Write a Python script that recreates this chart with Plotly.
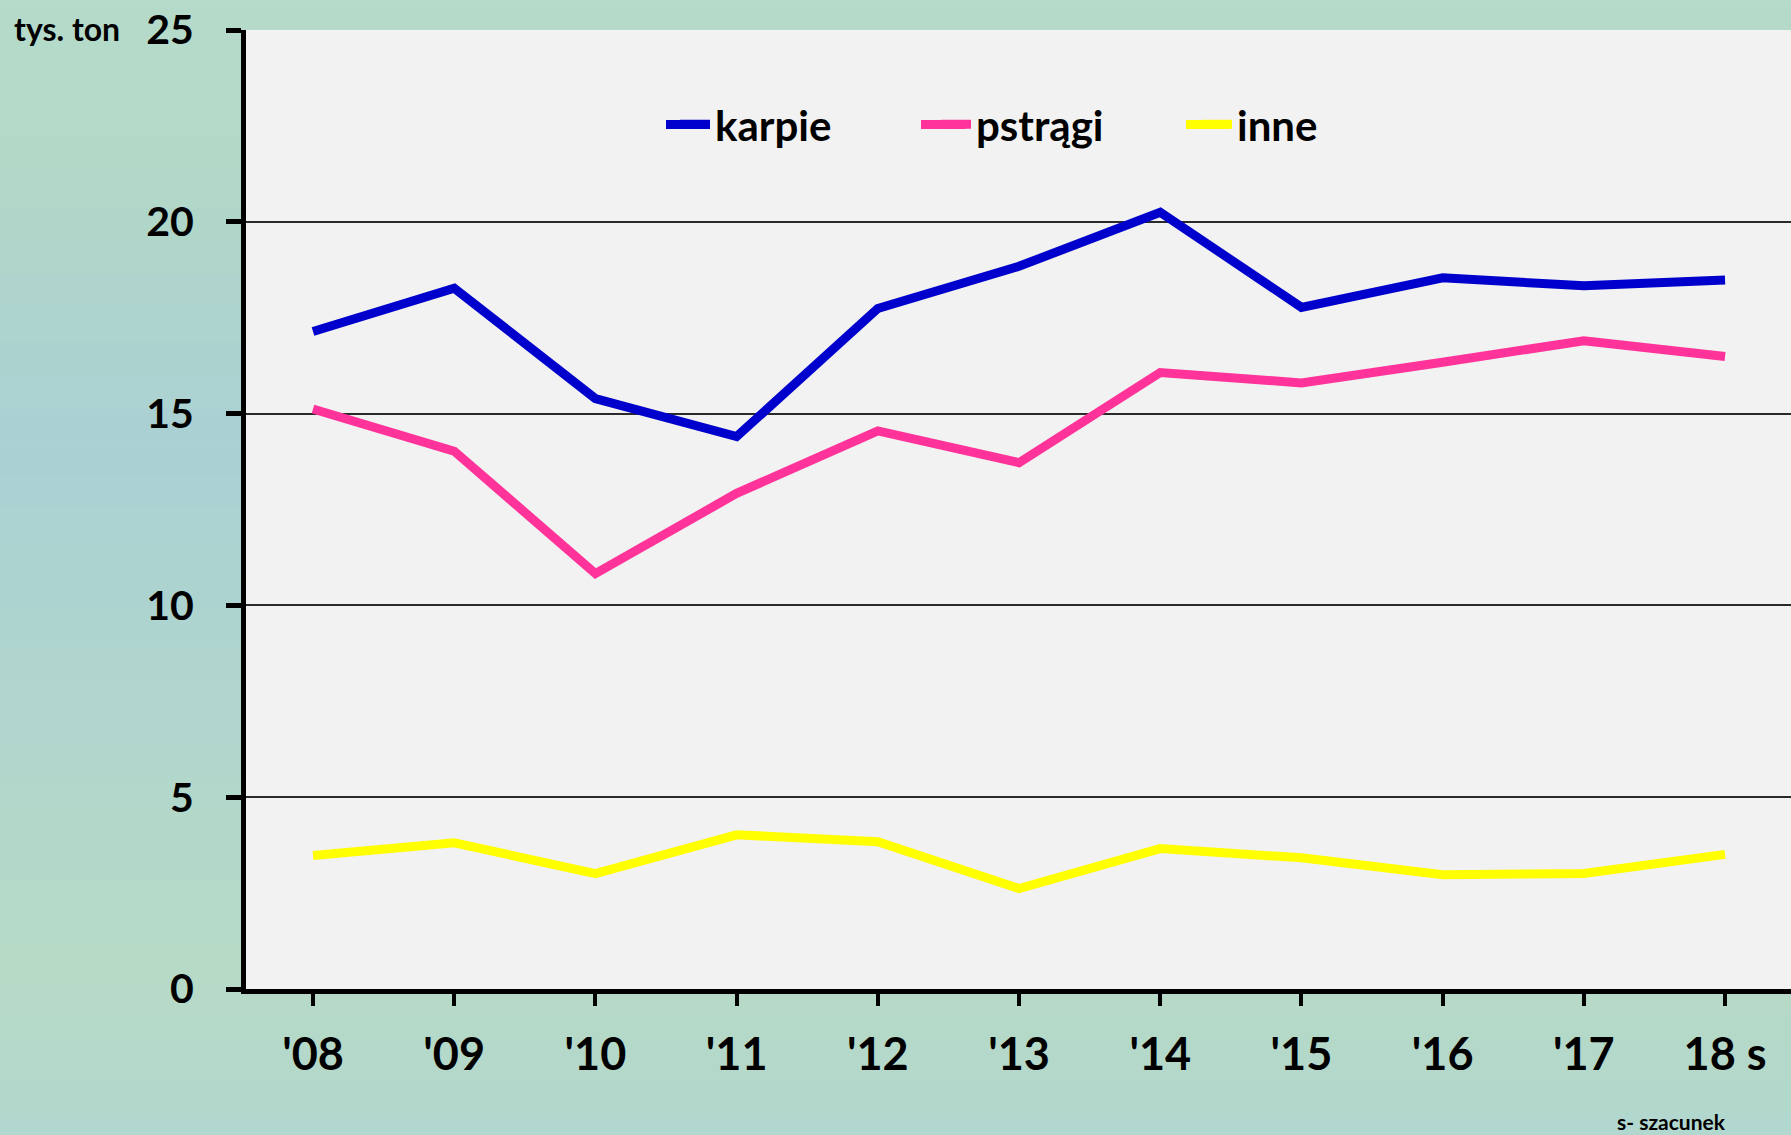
import plotly.graph_objects as go

years = ["'08", "'09", "'10", "'11", "'12", "'13", "'14", "'15", "'16", "'17", "18 s"]
karpie = [17.14, 18.27, 15.39, 14.40, 17.74, 18.84, 20.25, 17.77, 18.54, 18.33, 18.48]
pstragi = [15.12, 14.02, 10.83, 12.92, 14.55, 13.72, 16.07, 15.80, 16.34, 16.90, 16.49]
inne = [3.48, 3.81, 3.01, 4.02, 3.84, 2.62, 3.66, 3.42, 2.98, 3.01, 3.51]
y_ticks = [0, 5, 10, 15, 20, 25]

FONT = "Lato"
W, H = 1791, 1135
L, T, B = 246, 30, 146
PW, PH = W - L, H - T - B

series = [("karpie", karpie, "#0000CC"),
          ("pstrągi", pstragi, "#FF3399"),
          ("inne", inne, "#FFFF00")]

fig = go.Figure()
xi = list(range(len(years)))
for name, vals, col in series:
    fig.add_trace(go.Scatter(x=xi, y=vals, mode="lines", name=name,
                             line=dict(color=col, width=9)))

# decorative background (watery gradient)
stops = [(0.0, (184, 221, 203)), (0.25, (178, 216, 200)), (0.45, (170, 208, 212)),
         (0.65, (176, 214, 205)), (0.85, (182, 218, 198)), (1.0, (176, 214, 208))]
def col_at(t):
    for (t0, c0), (t1, c1) in zip(stops[:-1], stops[1:]):
        if t0 <= t <= t1:
            f = (t - t0) / (t1 - t0)
            return "rgb(%d,%d,%d)" % tuple(round(a + (b - a) * f) for a, b in zip(c0, c1))
    return "rgb(%d,%d,%d)" % stops[-1][1]
shapes = []
n = 40
for i in range(n):
    shapes.append(dict(type="rect", xref="paper", yref="paper", layer="below",
                       x0=-0.2, x1=1.05, y0=1.2 - (i + 1) * 1.4 / n, y1=1.2 - i * 1.4 / n,
                       fillcolor=col_at((i + 0.5) / n), line=dict(width=0)))
shapes.append(dict(type="rect", xref="x domain", yref="y domain", layer="below",
                   x0=0, x1=1, y0=0, y1=1, fillcolor="#F2F2F2", line=dict(width=0)))

# longer legend key lines (as in the reference)
key_px = [(662, 714), (917, 969), (1182, 1234)]
ky = 1 - (124.5 - T) / PH
for (a, b), (_, _, col) in zip(key_px, series):
    shapes.append(dict(type="line", xref="paper", yref="paper", layer="above",
                       x0=(a + 4 - L) / PW, x1=(b - 4 - L) / PW, y0=ky, y1=ky,
                       line=dict(color=col, width=9)))

fig.update_layout(
    width=W, height=H,
    margin=dict(l=L, r=0, t=T, b=B),
    paper_bgcolor="rgb(180,216,202)",
    plot_bgcolor="rgba(0,0,0,0)",
    shapes=shapes,
    font=dict(family=FONT, color="black", weight="bold"),
    showlegend=True,
    legend=dict(orientation="h", x=(675 - L) / PW, xanchor="left", y=ky, yanchor="middle",
                font=dict(family=FONT, size=42, weight="bold", color="black"),
                bgcolor="rgba(0,0,0,0)", entrywidth=216, itemwidth=30),
    xaxis=dict(range=[-0.4745, 10.467], tickmode="array", tickvals=xi, ticktext=years,
               showgrid=False, zeroline=False, showline=True, linecolor="black",
               linewidth=5, ticks="outside", ticklen=12, tickwidth=4, tickcolor="black",
               tickfont=dict(family=FONT, size=45, weight="bold", color="black"),
               ticklabelstandoff=10),
    yaxis=dict(range=[0, 25], tickmode="array", tickvals=y_ticks,
               showgrid=True, gridcolor="#2a2a2a", gridwidth=2, zeroline=False,
               showline=True, linecolor="black", linewidth=5,
               ticks="outside", ticklen=15, tickwidth=5, tickcolor="black",
               tickfont=dict(family=FONT, size=41, weight="bold", color="black"),
               ticklabelstandoff=24),
    annotations=[
        dict(text="tys. ton", xref="paper", yref="paper", x=(12 - L) / PW,
             y=1 + 2 / PH, xanchor="left", yanchor="middle", showarrow=False,
             font=dict(family=FONT, size=32, weight="bold", color="black")),
        dict(text="s- szacunek", xref="paper", yref="paper", x=(1728 - L) / PW,
             y=-(1121 - (T + PH)) / PH, xanchor="right", yanchor="middle", showarrow=False,
             font=dict(family=FONT, size=21, weight="bold", color="black")),
    ],
)

fig.write_html("out.html", config={"displayModeBar": False},
               post_script="document.body.style.margin='0';document.body.style.overflow='hidden';")
